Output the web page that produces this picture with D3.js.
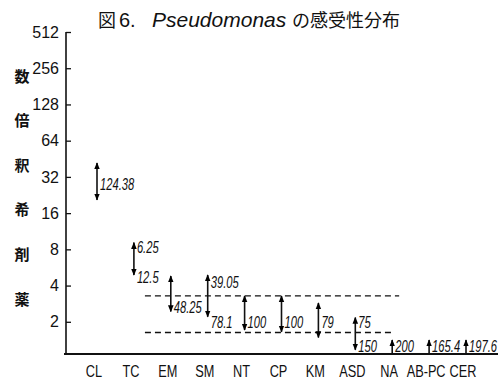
<!DOCTYPE html>
<html>
<head>
<meta charset="utf-8">
<script src="https://cdn.jsdelivr.net/npm/d3@7"></script>
<style>
  html, body { margin: 0; padding: 0; background: #fff; }
  svg { display: block; }
  .narrow { font-family: "Liberation Sans", Arial, sans-serif; }
</style>
</head>
<body>
<svg id="chart" width="498" height="382"></svg>
<script>
// ---- data ----
const categories = ["CL", "TC", "EM", "SM", "NT", "CP", "KM", "ASD", "NA", "AB-PC", "CER"];
const yTicks = [2, 4, 8, 16, 32, 64, 128, 256, 512];
const arrowKind = ["both", "both", "both", "both", "both", "both", "both", "both", "up", "up", "up"];
const rangeHigh = [41.8, 9.1, 4.8, 4.9, 3.28, 3.28, 2.87, 2.17, 1.41, 1.41, 1.41];
const rangeLow  = [20.6, 4.9, 2.43, 2.2, 1.71, 1.65, 1.48, 1.17, null, null, null];
const topLabels   = ["", "6.25", "", "39.05", "", "", "", "75", "", "", ""];
const topLabelAt  = [null, 8.4, null, 4.3, null, null, null, 2.0, null, null, null];
const mainLabels  = ["124.38", "12.5", "48.25", "78.1", "100", "100", "79", "150", "200", "165.4", "197.6"];
const mainLabelAt = [28, 4.73, 2.66, 2.0, 2.0, 2.0, 2.0, 1.25, 1.25, 1.25, 1.25];
const dashLevels = [3.28, 1.63];
const dashFrom = [1.38, 1.38];   // in category-index units
const dashTo   = [8.27, 8.13];
const yTitleChars = ["数", "倍", "釈", "希", "剤", "薬"];

// ---- drawing ----
const svg = d3.select("#chart");
svg.append("rect").attr("width", 498).attr("height", 382).attr("fill", "#fff");

const y = d3.scaleLog().base(2).domain([1.08, 512]).range([354, 32]);
const x = d3.scalePoint().domain(categories).range([94, 463]);
const xi = d3.scaleLinear().domain([0, categories.length - 1]).range([94, 463]);
const axisX = 66;
const arrowDx = 3;

// markers
const defs = svg.append("defs");
defs.append("marker")
  .attr("id", "head")
  .attr("viewBox", "0 0 10 10")
  .attr("refX", 9).attr("refY", 5)
  .attr("markerUnits", "userSpaceOnUse")
  .attr("markerWidth", 7).attr("markerHeight", 7)
  .attr("orient", "auto-start-reverse")
  .append("path").attr("d", "M0,1 L10,5 L0,9 Z").attr("fill", "#000");

// title
const title = svg.append("text").attr("x", 98).attr("y", 27).attr("fill", "#111");
title.append("tspan").attr("font-family", "'Noto Sans CJK JP', sans-serif").attr("font-size", 18).text("図");
title.append("tspan").attr("dx", 3).attr("font-family", "'Liberation Sans', sans-serif").attr("font-size", 20).text("6.");
title.append("tspan").attr("x", 152).attr("font-family", "'Liberation Sans', sans-serif").attr("font-style", "italic").attr("font-size", 21).text("Pseudomonas");
title.append("tspan").attr("x", 292).attr("font-family", "'Noto Sans CJK JP', sans-serif").attr("font-size", 18).text("の感受性分布");

// y axis
const yAxis = d3.axisLeft(y).tickValues(yTicks).tickFormat(d3.format("d"))
  .tickSizeInner(-5).tickSizeOuter(0).tickPadding(7);
const gy = svg.append("g").attr("transform", `translate(${axisX},0)`).call(yAxis);
gy.select(".domain").remove();
gy.selectAll(".tick line").attr("stroke", "#111").attr("stroke-width", 1.3);
gy.selectAll(".tick text").attr("class", "narrow").attr("font-size", 16).attr("fill", "#111");
svg.append("line")
  .attr("x1", axisX).attr("x2", axisX)
  .attr("y1", y(512)).attr("y2", y.range()[0])
  .attr("stroke", "#111").attr("stroke-width", 1.6);

// x axis baseline
svg.append("line")
  .attr("x1", axisX - 2).attr("x2", 498)
  .attr("y1", y.range()[0]).attr("y2", y.range()[0])
  .attr("stroke", "#111").attr("stroke-width", 1.8);

// category labels (horizontally condensed)
svg.append("g").selectAll("text").data(categories).join("text")
  .attr("class", "narrow")
  .attr("transform", d => `translate(${x(d)},377) scale(0.75,1)`)
  .attr("text-anchor", "middle")
  .attr("font-size", 17).attr("fill", "#111")
  .text(d => d);

// y title (vertical)
const yTitleTop = 75, yTitleBottom = 298;
svg.append("g").selectAll("text").data(yTitleChars).join("text")
  .attr("x", 22)
  .attr("y", (d, i) => yTitleTop + i * (yTitleBottom - yTitleTop) / (yTitleChars.length - 1))
  .attr("text-anchor", "middle").attr("dominant-baseline", "central")
  .attr("font-family", "'Noto Sans CJK JP', sans-serif")
  .attr("font-weight", 700).attr("font-size", 15).attr("fill", "#111")
  .text(d => d);

// dashed reference lines
svg.append("g").selectAll("line").data(dashLevels).join("line")
  .attr("x1", (d, i) => xi(dashFrom[i])).attr("x2", (d, i) => xi(dashTo[i]))
  .attr("y1", d => y(d)).attr("y2", d => y(d))
  .attr("stroke", "#111").attr("stroke-width", 1.3)
  .attr("stroke-dasharray", "6,4");

// arrows
const arrows = categories.map((c, i) => ({
  c, kind: arrowKind[i],
  hi: rangeHigh[i],
  lo: arrowKind[i] === "up" ? y.domain()[0] : rangeLow[i]
}));
svg.append("g").selectAll("line").data(arrows).join("line")
  .attr("x1", d => x(d.c) + arrowDx).attr("x2", d => x(d.c) + arrowDx)
  .attr("y1", d => y(d.lo)).attr("y2", d => y(d.hi))
  .attr("stroke", "#111").attr("stroke-width", 1.6)
  .attr("marker-end", "url(#head)")
  .attr("marker-start", d => d.kind === "both" ? "url(#head)" : null);

// annotation labels (italic, condensed)
const lbl = svg.append("g").attr("class", "narrow")
  .attr("font-style", "italic").attr("font-size", 16).attr("fill", "#111");
lbl.selectAll("text.main").data(categories).join("text")
  .attr("class", "main")
  .attr("transform", (d, i) => `translate(${x(d) + arrowDx + 3},${y(mainLabelAt[i])}) scale(0.7,1)`)
  .attr("dominant-baseline", "central")
  .text((d, i) => mainLabels[i]);
lbl.selectAll("text.top").data(categories.filter((d, i) => topLabels[i])).join("text")
  .attr("class", "top")
  .attr("transform", d => `translate(${x(d) + arrowDx + 3},${y(topLabelAt[categories.indexOf(d)])}) scale(0.7,1)`)
  .attr("dominant-baseline", "central")
  .text(d => topLabels[categories.indexOf(d)]);
</script>
</body>
</html>
